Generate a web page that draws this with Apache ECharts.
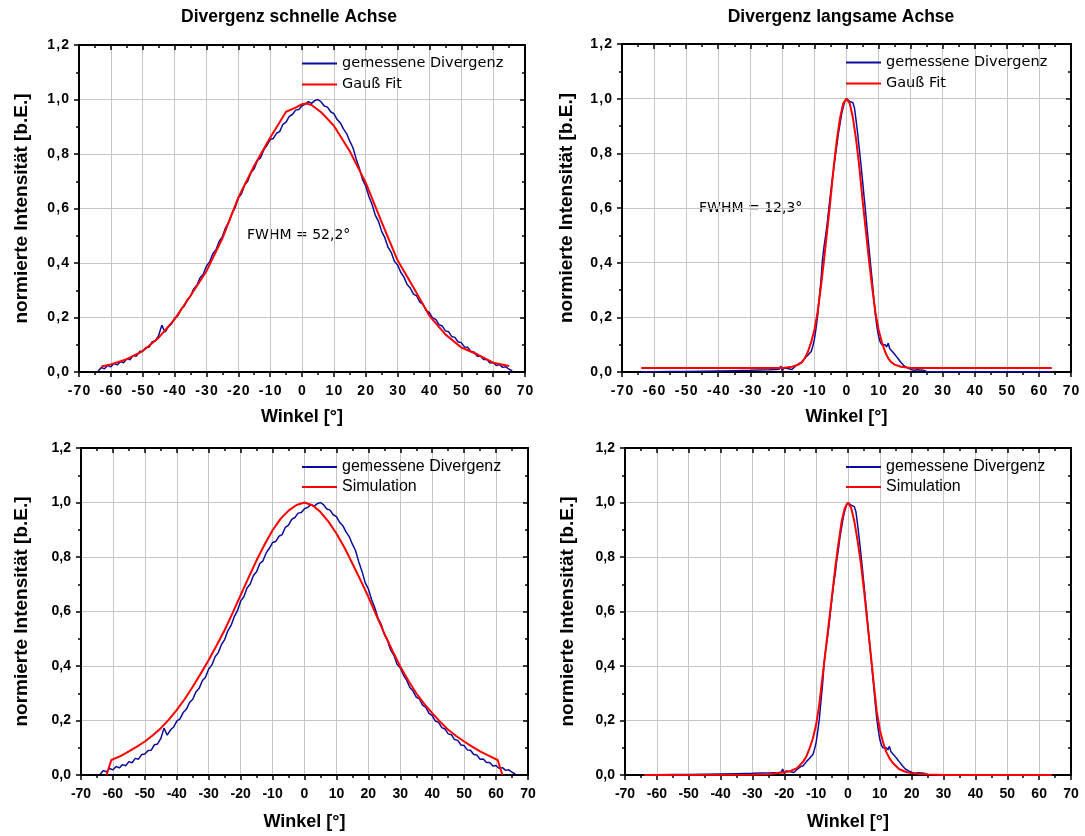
<!DOCTYPE html>
<html>
<head>
<meta charset="utf-8">
<script src="https://cdn.jsdelivr.net/npm/echarts@6/dist/echarts.min.js"></script>
<style>
  html, body { margin: 0; padding: 0; background: #ffffff; }
  #chart { width: 1085px; height: 836px; }
</style>
</head>
<body>
<div id="chart"></div>
<script>
// ---- Messdaten: Divergenz der schnellen Achse (Winkel in Grad, Intensität normiert)
const fastAngles = [
  -64, -63, -62, -61, -60, -59, -58, -57, -56, -55, -54, -53, -52, -51, -50, -49, -48, -47, -46, -45,
  -44, -43, -42, -41, -40, -39, -38, -37, -36, -35, -34, -33, -32, -31, -30, -29, -28, -27, -26, -25,
  -24, -23, -22, -21, -20, -19, -18, -17, -16, -15, -14, -13, -12, -11, -10, -9, -8, -7, -6, -5,
  -4, -3, -2, -1, 0, 1, 2, 3, 4, 5, 6, 7, 8, 9, 10, 11, 12, 13, 14, 15,
  16, 17, 18, 19, 20, 21, 22, 23, 24, 25, 26, 27, 28, 29, 30, 31, 32, 33, 34, 35,
  36, 37, 38, 39, 40, 41, 42, 43, 44, 45, 46, 47, 48, 49, 50, 51, 52, 53, 54, 55,
  56, 57, 58, 59, 60, 61, 62, 63, 64, 65, 66
];
const fastMeasured = [
  0.004, 0.016, 0.012, 0.024, 0.019, 0.031, 0.026, 0.038, 0.034, 0.049, 0.045, 0.061, 0.058, 0.075, 0.077, 0.090, 0.091, 0.111, 0.114, 0.134,
  0.172, 0.146, 0.165, 0.176, 0.198, 0.206, 0.229, 0.241, 0.266, 0.278, 0.305, 0.318, 0.346, 0.359, 0.389, 0.404, 0.434, 0.449, 0.479, 0.497,
  0.529, 0.549, 0.581, 0.603, 0.638, 0.654, 0.686, 0.701, 0.732, 0.746, 0.776, 0.786, 0.815, 0.832, 0.853, 0.857, 0.876, 0.882, 0.909, 0.917,
  0.938, 0.945, 0.961, 0.963, 0.977, 0.982, 0.992, 0.986, 0.996, 1.000, 0.991, 0.976, 0.972, 0.955, 0.948, 0.927, 0.915, 0.892, 0.875, 0.847,
  0.823, 0.782, 0.748, 0.706, 0.683, 0.644, 0.615, 0.576, 0.553, 0.516, 0.493, 0.458, 0.439, 0.406, 0.393, 0.366, 0.348, 0.321, 0.308, 0.286,
  0.279, 0.256, 0.248, 0.226, 0.218, 0.198, 0.193, 0.174, 0.169, 0.151, 0.148, 0.130, 0.127, 0.110, 0.108, 0.092, 0.091, 0.075, 0.073, 0.058,
  0.059, 0.046, 0.046, 0.033, 0.035, 0.024, 0.027, 0.017, 0.019, 0.010, 0.004
];

// Gauß-Fit der schnellen Achse
const fastFitAngles = [-63, -60, -55, -50, -45, -40, -35, -30, -25, -20, -15, -10, -5, -2, 0, 1.5, 3, 6, 10, 15, 20, 25, 30, 35, 40, 45, 50, 55, 60, 65];
const fastFit = [0.020, 0.028, 0.047, 0.077, 0.126, 0.193, 0.280, 0.370, 0.490, 0.640, 0.757, 0.860, 0.955, 0.970, 0.983, 0.985, 0.980, 0.953, 0.904, 0.810, 0.695, 0.550, 0.410, 0.310, 0.206, 0.138, 0.090, 0.065, 0.034, 0.022];

// Simulation der schnellen Achse
const fastSimAngles = [-62, -60.5, -57.5, -55, -52.5, -50, -47.5, -45, -42.5, -40, -37.5, -35, -32.5, -30, -27.5, -25, -22.5, -20, -17.5, -15, -12.5, -10, -7.5, -5, -2.5,
  0, 2.5, 5, 7.5, 10, 12.5, 15, 17.5, 20, 22.5, 25, 27.5, 30, 32.5, 35, 37.5, 40, 42.5, 45, 47.5, 50, 52.5, 55, 57.5, 60.5, 62];
const fastSim = [0.000, 0.055, 0.070, 0.087, 0.104, 0.123, 0.146, 0.172, 0.203, 0.239, 0.279, 0.324, 0.372, 0.422, 0.476, 0.532, 0.595, 0.660, 0.725, 0.788, 0.846, 0.898, 0.940, 0.970, 0.991,
  1.000, 0.990, 0.965, 0.930, 0.886, 0.835, 0.776, 0.716, 0.654, 0.586, 0.520, 0.457, 0.398, 0.347, 0.300, 0.261, 0.227, 0.195, 0.166, 0.143, 0.123, 0.104, 0.087, 0.072, 0.055, 0.000];

// ---- Messdaten: Divergenz der langsamen Achse
const slowAngles = [
  -64, -60, -55, -50, -45, -40, -35, -30, -27, -24, -22, -21, -20.5, -20, -19.5, -19, -18, -17, -16, -15,
  -14, -13, -12, -11, -10.5, -10, -9.5, -9, -8.5, -8, -7.5, -7, -6.5, -6, -5.5, -5, -4.5, -4, -3.5, -3,
  -2.5, -2, -1.5, -1, -0.5, 0, 0.5, 1, 1.5, 2, 2.5, 3, 3.5, 4, 4.5, 5, 5.5, 6, 6.5, 7,
  7.5, 8, 8.5, 9, 9.5, 10, 10.5, 11, 11.5, 12, 12.5, 13, 13.5, 14, 14.5, 15, 15.5, 16, 16.5, 17,
  17.5, 18, 18.5, 19, 20, 21, 22, 22.5, 23, 23.5, 24, 25, 30, 40, 50, 60, 64
];
const slowMeasured = [
  0.001, 0.001, 0.002, 0.002, 0.003, 0.004, 0.005, 0.006, 0.007, 0.008, 0.009, 0.010, 0.022, 0.004, 0.015, 0.008, 0.012, 0.009, 0.020, 0.030,
  0.035, 0.050, 0.062, 0.075, 0.095, 0.120, 0.160, 0.205, 0.270, 0.330, 0.410, 0.460, 0.500, 0.545, 0.600, 0.650, 0.700, 0.740, 0.790, 0.830,
  0.875, 0.910, 0.945, 0.970, 0.990, 1.000, 0.995, 0.990, 0.992, 0.985, 0.965, 0.920, 0.870, 0.815, 0.760, 0.700, 0.640, 0.580, 0.515, 0.455,
  0.395, 0.335, 0.270, 0.210, 0.165, 0.130, 0.110, 0.100, 0.095, 0.100, 0.092, 0.105, 0.085, 0.078, 0.072, 0.065, 0.058, 0.050, 0.048, 0.035,
  0.032, 0.022, 0.025, 0.015, 0.010, 0.006, 0.008, 0.002, 0.007, 0.001, 0.006, 0.002, 0.001, 0.001, 0.001, 0.001, 0.001
];

// Gauß-Fit der langsamen Achse
const slowFitAngles = [-64, -20, -17, -15, -14, -13, -12, -11, -10, -9, -8, -7, -6, -5, -4, -3, -2, -1, 0,
  1, 2, 3, 4, 5, 6, 7, 8, 9, 10, 11, 12, 13, 14, 15, 17, 20, 64];
const slowFit = [0.015, 0.015, 0.019, 0.027, 0.035, 0.050, 0.075, 0.110, 0.155, 0.220, 0.310, 0.410, 0.520, 0.630, 0.750, 0.850, 0.930, 0.983, 1.000,
  0.983, 0.930, 0.850, 0.750, 0.630, 0.520, 0.410, 0.310, 0.220, 0.155, 0.110, 0.075, 0.050, 0.035, 0.027, 0.019, 0.015, 0.015];

// Simulation der langsamen Achse
const slowSimAngles = [-64, -30, -25, -20, -18, -16, -14, -13, -12, -11, -10, -9, -8, -7, -6, -5, -4, -3, -2, -1, 0,
  1, 2, 3, 4, 5, 6, 7, 8, 9, 10, 11, 12, 13, 14, 16, 18, 20, 25, 30, 64];
const slowSim = [0.000, 0.001, 0.003, 0.010, 0.015, 0.025, 0.050, 0.070, 0.100, 0.135, 0.185, 0.260, 0.360, 0.460, 0.560, 0.660, 0.760, 0.850, 0.930, 0.980, 1.000,
  0.980, 0.930, 0.860, 0.780, 0.680, 0.570, 0.460, 0.345, 0.235, 0.165, 0.120, 0.085, 0.062, 0.045, 0.022, 0.012, 0.006, 0.002, 0.000, 0.000];

// ---- Beschriftungen
const panelTitles = ['Divergenz schnelle Achse', 'Divergenz langsame Achse'];
const fwhmTexts = ['FWHM = 52,2°', 'FWHM = 12,3°'];
const xName = 'Winkel [°]';
const yName = 'normierte Intensität [b.E.]';
const nameMeasured = 'gemessene Divergenz';
const nameFit = 'Gauß Fit';
const nameSim = 'Simulation';

const BLUE = '#0c0c9c';
const RED = '#ff0000';
const GRIDLINE = '#c6c6c6';
const HAIR = '\u200a';

const pairs = (xs, ys) => xs.map((x, i) => [x, ys[i]]);
const spaced = s => s.split('').join(HAIR);

// Panel geometry (pixels); the upper row uses spaced tick labels
const panels = [
  { grid: { left: 79, top: 45, width: 446, height: 327 }, upper: true, nameGapY: 48, nameGapX: 36 },
  { grid: { left: 622, top: 44, width: 449, height: 328 }, upper: true, nameGapY: 46, nameGapX: 36 },
  { grid: { left: 81, top: 448, width: 447, height: 327 }, upper: false, nameGapY: 50, nameGapX: 38 },
  { grid: { left: 625, top: 448, width: 446, height: 327 }, upper: false, nameGapY: 48, nameGapX: 38 }
];

const X_RANGE = { min: -70, max: 70 };
const Y_RANGE = { min: 0, max: 1.2 };

const grids = [], xAxes = [], yAxes = [];
const frameLine = { show: true, onZero: false, lineStyle: { color: '#000', width: 2 } };
const hiddenLine = { show: false, onZero: false };
const tickLine = { color: '#000', width: 1.5 };
const off = { show: false };

// A bare axis on the frame that only contributes short minor ticks (every 5° / 0.1)
function minorAxis(g, position, range, step, inside) {
  return Object.assign({
    gridIndex: g, type: 'value', position: position, interval: step,
    axisLine: hiddenLine, axisLabel: off, splitLine: off, minorTick: off, splitArea: off,
    axisTick: { show: true, inside: inside, length: 3, lineStyle: tickLine }
  }, range);
}

panels.forEach((p, g) => {
  grids.push(Object.assign({ containLabel: false }, p.grid));
  const tickFont = 14;
  const xFmt = v => p.upper ? spaced(String(v)) : String(v);
  const yFmt = v => {
    const s = v.toFixed(1).replace('.', ',');
    return p.upper ? spaced(s) : s;
  };
  // bottom x axis with labels and grid lines (index 4g)
  xAxes.push(Object.assign({
    gridIndex: g, type: 'value', position: 'bottom', interval: 10,
    axisLine: frameLine, minorTick: off,
    axisTick: { show: true, inside: false, length: 5, lineStyle: tickLine },
    axisLabel: { show: true, margin: 12, formatter: xFmt, color: '#000', fontFamily: 'Liberation Sans', fontWeight: 'bold', fontSize: tickFont },
    splitLine: { show: true, lineStyle: { color: GRIDLINE, width: 1 } },
    name: xName, nameLocation: 'middle', nameGap: p.nameGapX,
    nameTextStyle: { color: '#000', fontFamily: 'Liberation Sans', fontWeight: 'bold', fontSize: 18 }
  }, X_RANGE));
  // top x axis: frame with inward ticks
  xAxes.push(Object.assign({
    gridIndex: g, type: 'value', position: 'top', interval: 10,
    axisLine: frameLine, minorTick: off, axisLabel: off, splitLine: off,
    axisTick: { show: true, inside: true, length: 5, lineStyle: tickLine }
  }, X_RANGE));
  xAxes.push(minorAxis(g, 'bottom', X_RANGE, 5, false));
  xAxes.push(minorAxis(g, 'top', X_RANGE, 5, true));

  // left y axis with labels and grid lines (index 4g)
  yAxes.push(Object.assign({
    gridIndex: g, type: 'value', position: 'left', interval: 0.2,
    axisLine: frameLine, minorTick: off,
    axisTick: { show: true, inside: false, length: 5, lineStyle: tickLine },
    axisLabel: { show: true, margin: 10, formatter: yFmt, color: '#000', fontFamily: 'Liberation Sans', fontWeight: 'bold', fontSize: tickFont },
    splitLine: { show: true, lineStyle: { color: GRIDLINE, width: 1 } },
    name: yName, nameLocation: 'middle', nameGap: p.nameGapY,
    nameTextStyle: { color: '#000', fontFamily: 'Liberation Sans', fontWeight: 'bold', fontSize: 19 }
  }, Y_RANGE));
  // right y axis: frame with inward ticks
  yAxes.push(Object.assign({
    gridIndex: g, type: 'value', position: 'right', interval: 0.2,
    axisLine: frameLine, minorTick: off, axisLabel: off, splitLine: off,
    axisTick: { show: true, inside: true, length: 5, lineStyle: tickLine }
  }, Y_RANGE));
  yAxes.push(minorAxis(g, 'left', Y_RANGE, 0.1, false));
  yAxes.push(minorAxis(g, 'right', Y_RANGE, 0.1, true));
});

function lineSeries(name, g, data, color, width) {
  return {
    name: name, type: 'line', xAxisIndex: 4 * g, yAxisIndex: 4 * g,
    data: data, showSymbol: false, symbol: 'none', smooth: false,
    lineStyle: { color: color, width: width }, itemStyle: { color: color },
    emphasis: { disabled: true }, silent: true, clip: true
  };
}

const series = [
  lineSeries(nameMeasured, 0, pairs(fastAngles, fastMeasured), BLUE, 1.5),
  lineSeries(nameFit, 0, pairs(fastFitAngles, fastFit), RED, 2),
  lineSeries(nameMeasured, 1, pairs(slowAngles, slowMeasured), BLUE, 1.5),
  lineSeries(nameFit, 1, pairs(slowFitAngles, slowFit), RED, 2),
  lineSeries(nameMeasured, 2, pairs(fastAngles, fastMeasured), BLUE, 1.5),
  lineSeries(nameSim, 2, pairs(fastSimAngles, fastSim), RED, 2),
  lineSeries(nameMeasured, 3, pairs(slowAngles, slowMeasured), BLUE, 1.5),
  lineSeries(nameSim, 3, pairs(slowSimAngles, slowSim), RED, 2)
];

function legendAt(left, top, names, upper) {
  return {
    orient: 'vertical', left: left, top: top, data: names,
    icon: 'rect', itemWidth: 35, itemHeight: 2, itemGap: upper ? 6 : 4,
    selectedMode: false, padding: 0,
    textStyle: upper
      ? { color: '#000', fontFamily: 'DejaVu Sans', fontSize: 14.5, lineHeight: 14 }
      : { color: '#000', fontFamily: 'Liberation Sans', fontSize: 16, lineHeight: 16 }
  };
}

const legends = [
  legendAt(302, 56, [nameMeasured, nameFit], true),
  legendAt(846, 55, [nameMeasured, nameFit], true),
  legendAt(302, 459, [nameMeasured, nameSim], false),
  legendAt(846, 459, [nameMeasured, nameSim], false)
];

const titleStyle = { fill: '#000', font: 'bold 17.5px "Liberation Sans"', textAlign: 'center', textVerticalAlign: 'middle' };
const noteStyle = { fill: '#000', font: '14px "DejaVu Sans"', textAlign: 'left', textVerticalAlign: 'middle' };

const graphics = [
  { type: 'text', x: 289, y: 17, silent: true, style: Object.assign({ text: panelTitles[0] }, titleStyle) },
  { type: 'text', x: 841, y: 17, silent: true, style: Object.assign({ text: panelTitles[1] }, titleStyle) },
  { type: 'text', x: 247, y: 235, silent: true, style: Object.assign({ text: fwhmTexts[0] }, noteStyle) },
  { type: 'text', x: 699, y: 208, silent: true, style: Object.assign({ text: fwhmTexts[1] }, noteStyle) }
];

const chart = echarts.init(document.getElementById('chart'), null, { renderer: 'canvas' });
chart.setOption({
  animation: false,
  backgroundColor: '#ffffff',
  grid: grids,
  xAxis: xAxes,
  yAxis: yAxes,
  legend: legends,
  series: series,
  graphic: graphics
});
</script>
</body>
</html>
